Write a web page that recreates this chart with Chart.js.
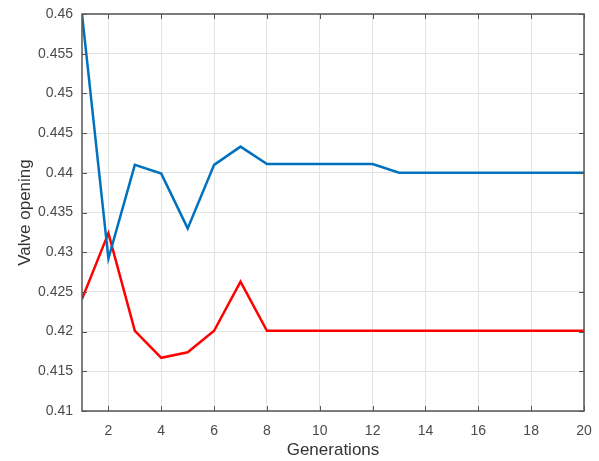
<!DOCTYPE html>
<html>
<head>
<meta charset="utf-8">
<script src="https://cdn.jsdelivr.net/npm/chart.js@4"></script>
<style>
  html, body { margin: 0; padding: 0; background: #fff; overflow: hidden; }
  #wrap { width: 599px; height: 461px; }
</style>
</head>
<body>
<div id="wrap"><canvas id="chart"></canvas></div>
<script>
const generations = [1, 2, 3, 4, 5, 6, 7, 8, 9, 10, 11, 12, 13, 14, 15, 16, 17, 18, 19, 20];
const blueValues = [0.4600, 0.4292, 0.4410, 0.4399, 0.4330, 0.4410, 0.4433, 0.4411, 0.4411, 0.4411,
  0.4411, 0.4411, 0.4400, 0.4400, 0.4400, 0.4400, 0.4400, 0.4400, 0.4400, 0.4400];
const redValues = [0.4241, 0.4324, 0.4201, 0.4167, 0.4174, 0.4201, 0.4263, 0.4201, 0.4201, 0.4201,
  0.4201, 0.4201, 0.4201, 0.4201, 0.4201, 0.4201, 0.4201, 0.4201, 0.4201, 0.4201];
const xTicks = [2, 4, 6, 8, 10, 12, 14, 16, 18, 20];
const yTicks = [0.41, 0.415, 0.42, 0.425, 0.43, 0.435, 0.44, 0.445, 0.45, 0.455, 0.46];
const yTickLabels = ['0.41', '0.415', '0.42', '0.425', '0.43', '0.435', '0.44', '0.445', '0.45', '0.455', '0.46'];

const axisColor = '#555';
const labelColor = '#4a4a4a';

// matlab style box with inward ticks on all four sides
const boxPlugin = {
  id: 'box',
  afterDraw(chart) {
    const { ctx, chartArea: a, scales } = chart;
    const len = 5;
    ctx.save();
    ctx.strokeStyle = axisColor;
    ctx.lineWidth = 1;
    ctx.beginPath();
    xTicks.forEach(v => {
      const px = Math.round(scales.x.getPixelForValue(v)) + 0.5;
      ctx.moveTo(px, a.bottom); ctx.lineTo(px, a.bottom - len);
      ctx.moveTo(px, a.top); ctx.lineTo(px, a.top + len);
    });
    yTicks.forEach(v => {
      const py = Math.round(scales.y.getPixelForValue(v)) + 0.5;
      ctx.moveTo(a.left, py); ctx.lineTo(a.left + len, py);
      ctx.moveTo(a.right, py); ctx.lineTo(a.right - len, py);
    });
    ctx.stroke();
    ctx.lineWidth = 1.5;
    ctx.strokeRect(a.left, a.top, a.right - a.left, a.bottom - a.top);
    ctx.restore();
  }
};

const toPoints = vals => generations.map((g, i) => ({ x: g, y: vals[i] }));

new Chart(document.getElementById('chart').getContext('2d'), {
  type: 'line',
  data: {
    datasets: [
      {
        label: 'blue',
        data: toPoints(blueValues),
        borderColor: '#0072BD',
        borderWidth: 2.5,
        pointRadius: 0,
        pointHoverRadius: 0,
        tension: 0,
        fill: false,
      },
      {
        label: 'red',
        data: toPoints(redValues),
        borderColor: '#FF0000',
        borderWidth: 2.5,
        pointRadius: 0,
        pointHoverRadius: 0,
        tension: 0,
        fill: false,
      },
    ],
  },
  options: {
    responsive: true,
    maintainAspectRatio: false,
    animation: false,
    layout: { padding: { top: 14, right: 15, left: 0, bottom: 0 } },
    plugins: {
      legend: { display: false },
      tooltip: { enabled: false },
    },
    scales: {
      x: {
        type: 'linear',
        min: 1,
        max: 20,
        afterBuildTicks: (scale) => { scale.ticks = xTicks.map(v => ({ value: v })); },
        afterFit: (scale) => {
          scale.height = 50;
          scale.paddingLeft = 0;
          scale.paddingRight = 0;
        },
        grid: { color: '#e3e3e3', drawTicks: false },
        border: { display: false },
        ticks: {
          color: labelColor,
          font: { family: 'Liberation Sans, Arial, sans-serif', size: 14 },
          padding: 12,
          maxRotation: 0,
          callback: (v) => String(v),
        },
        title: {
          display: true,
          text: 'Generations',
          color: '#333',
          font: { family: 'Liberation Sans, Arial, sans-serif', size: 17 },
          padding: { top: 5, bottom: 0 },
        },
      },
      y: {
        type: 'linear',
        min: 0.41,
        max: 0.46,
        afterBuildTicks: (scale) => { scale.ticks = yTicks.map(v => ({ value: v })); },
        afterFit: (scale) => {
          scale.width = 82;
          scale.paddingTop = 0;
          scale.paddingBottom = 0;
        },
        grid: { color: '#e3e3e3', drawTicks: false },
        border: { display: false },
        ticks: {
          color: labelColor,
          font: { family: 'Liberation Sans, Arial, sans-serif', size: 14 },
          padding: 9,
          callback: (v, i) => yTickLabels[i],
        },
        title: {
          display: true,
          text: 'Valve opening',
          color: '#333',
          font: { family: 'Liberation Sans, Arial, sans-serif', size: 17 },
          padding: { top: 15, bottom: 0 },
        },
      },
    },
  },
  plugins: [boxPlugin],
});
</script>
</body>
</html>
